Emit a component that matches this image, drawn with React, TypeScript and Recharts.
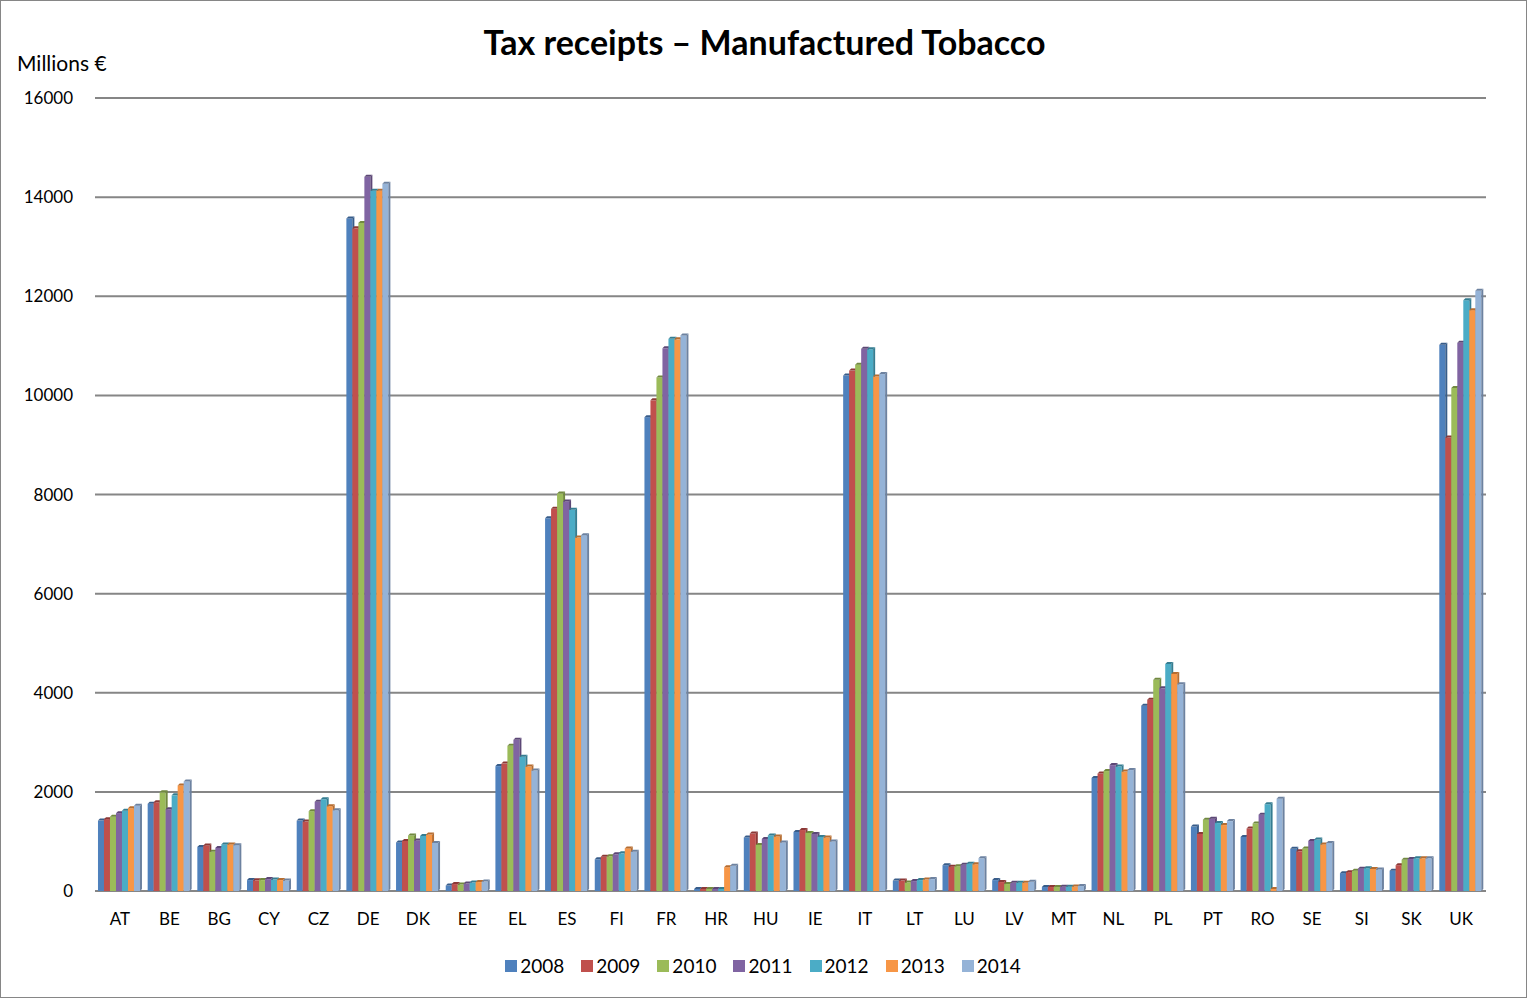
import { Bar, BarChart, CartesianGrid, Legend, XAxis, YAxis } from "recharts"

const countries = [
  "AT", "BE", "BG", "CY", "CZ", "DE", "DK", "EE", "EL", "ES", "FI", "FR", "HR", "HU",
  "IE", "IT", "LT", "LU", "LV", "MT", "NL", "PL", "PT", "RO", "SE", "SI", "SK", "UK",
]

const years = ["2008", "2009", "2010", "2011", "2012", "2013", "2014"]

const y2008 = [1420, 1760, 890, 220, 1420, 13570, 980, 110, 2520, 7520, 640, 9560, 40, 1080, 1190, 10400, 210, 520, 220, 80, 2280, 3740, 1300, 1090, 850, 360, 410, 11020]
const y2009 = [1450, 1790, 920, 215, 1400, 13370, 1010, 140, 2570, 7710, 690, 9900, 40, 1160, 1230, 10500, 210, 490, 180, 80, 2370, 3860, 1150, 1260, 800, 380, 520, 9150]
const y2010 = [1500, 1990, 790, 220, 1610, 13480, 1120, 130, 2930, 8020, 700, 10360, 40, 930, 1170, 10620, 170, 500, 140, 80, 2420, 4260, 1440, 1360, 860, 410, 630, 10150]
const y2011 = [1570, 1650, 870, 240, 1800, 14410, 1020, 150, 3050, 7860, 740, 10950, 40, 1050, 1150, 10940, 200, 530, 165, 85, 2540, 4090, 1460, 1540, 1010, 450, 645, 11060]
const y2012 = [1620, 1930, 940, 230, 1850, 14130, 1110, 170, 2710, 7690, 760, 11140, 40, 1120, 1090, 10930, 220, 550, 165, 88, 2510, 4580, 1370, 1750, 1040, 460, 660, 11920]
const y2013 = [1670, 2130, 940, 220, 1710, 14130, 1140, 180, 2510, 7130, 860, 11130, 480, 1100, 1080, 10380, 230, 540, 165, 90, 2410, 4380, 1330, 40, 940, 445, 660, 11720]
const y2014 = [1720, 2210, 925, 210, 1630, 14270, 970, 190, 2430, 7180, 790, 11210, 510, 980, 1000, 10430, 240, 660, 185, 100, 2440, 4170, 1410, 1860, 970, 435, 660, 12110]

const yTicks = [0, 2000, 4000, 6000, 8000, 10000, 12000, 14000, 16000]

const colors = ["#4f81bd", "#c0504d", "#9bbb59", "#8064a2", "#4bacc6", "#f79646", "#95b3d7"]
const darker = ["#385d8a", "#8c3836", "#71893f", "#5c4776", "#357d91", "#b66d31", "#6d82a0"]

const series = [y2008, y2009, y2010, y2011, y2012, y2013, y2014]

const data = countries.map((c, i) => {
  const row: Record<string, string | number> = { name: c }
  years.forEach((yr, j) => {
    row[yr] = series[j][i]
  })
  return row
})

const font = "Lato, 'Open Sans', sans-serif"

function makeShape(idx: number) {
  return (props: any) => {
    const { x, y, width, height } = props
    if (!height || height <= 0) return <g />
    const d = 2
    return (
      <g>
        <rect x={x} y={y} width={width} height={height} fill={colors[idx]} />
        <polygon
          points={`${x},${y} ${x + d},${y - d} ${x + width + d},${y - d} ${x + width},${y}`}
          fill={darker[idx]}
        />
        <polygon
          points={`${x + width},${y} ${x + width + d},${y - d} ${x + width + d},${y + height - d} ${x + width},${y + height}`}
          fill={darker[idx]}
        />
      </g>
    )
  }
}

function LegendContent(props: any) {
  const { payload } = props
  return (
    <div style={{ display: "flex", justifyContent: "center", fontSize: 19, fontFamily: font, color: "#000" }}>
      {(payload || []).map((p: any) => (
        <div key={p.value} style={{ display: "flex", alignItems: "center", marginRight: 17, marginLeft: 0 }}>
          <span style={{ display: "inline-block", width: 12, height: 12, background: p.color, marginRight: 3 }} />
          <span>{p.value}</span>
        </div>
      ))}
    </div>
  )
}

export default function App() {
  return (
    <div
      style={{
        position: "absolute",
        left: 0,
        top: 0,
        width: 1527,
        height: 998,
        boxSizing: "border-box",
        border: "1px solid #868686",
        background: "#fff",
        fontFamily: font,
      }}
    >
      <div
        style={{
          position: "absolute",
          left: 0,
          width: 1527,
          top: 20,
          textAlign: "center",
          fontSize: 34,
          fontWeight: 700,
          color: "#000",
        }}
      >
        Tax receipts – Manufactured Tobacco
      </div>
      <div style={{ position: "absolute", left: 16, top: 49, fontSize: 21, color: "#000" }}>
        Millions €
      </div>
      <BarChart
        width={1525}
        height={996}
        data={data}
        margin={{ top: 97, right: 40, bottom: 76, left: 0 }}
        barCategoryGap="6%"
        barGap={0}
      >
        <CartesianGrid vertical={false} stroke="#868686" strokeWidth={2} />
        <XAxis
          dataKey="name"
          height={30}
          tickLine={false}
          axisLine={false}
          tickMargin={16}
          tick={{ fill: "#000", fontSize: 17, fontFamily: font }}
          interval={0}
        />
        <YAxis
          width={94}
          domain={[0, 16000]}
          ticks={yTicks}
          tickLine={false}
          axisLine={false}
          tickMargin={16}
          tick={{ fill: "#000", fontSize: 17, fontFamily: font }}
        />
        <Legend
          verticalAlign="middle"
          align="center"
          layout="horizontal"
          wrapperStyle={{ top: 953, left: 8, width: 1525 }}
          content={<LegendContent />}
        />
        {years.map((yr, j) => (
          <Bar key={yr} dataKey={yr} fill={colors[j]} shape={makeShape(j)} isAnimationActive={false} />
        ))}
      </BarChart>
    </div>
  )
}
